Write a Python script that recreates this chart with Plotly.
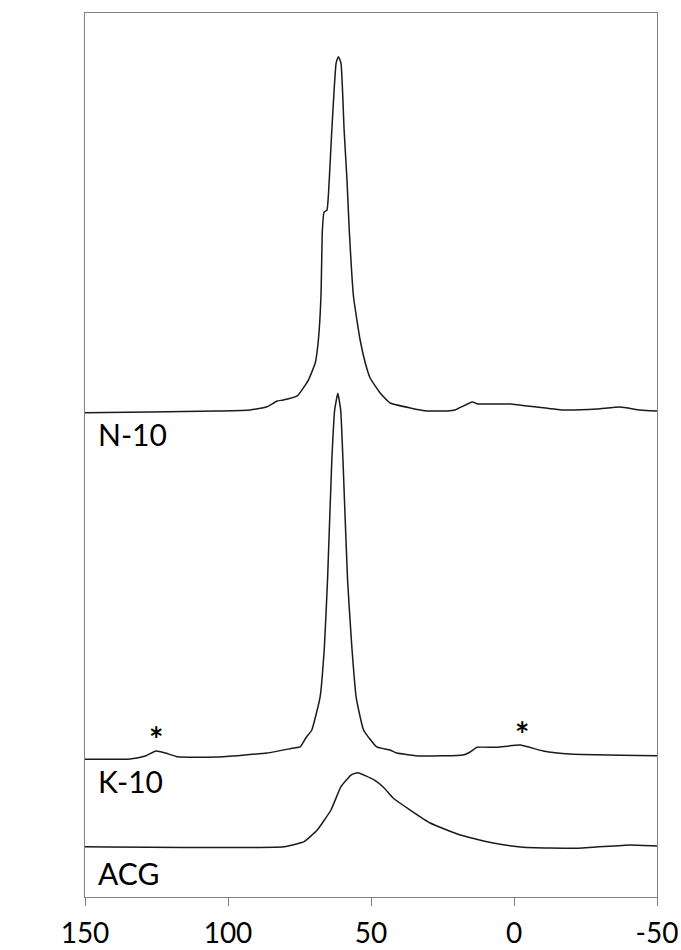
import plotly.graph_objects as go

# ---- data (chemical shift in ppm, intensity in arbitrary stacked units) ----
n10_ppm = [150, 127.2, 103.8, 92.2, 86.3, 82.8, 80.7, 75.8, 71.9, 69.5, 68.4, 67.5, 67.0,
           66.4, 65.4, 64.6, 63.7, 62.2, 61.4, 60.5, 59.4, 58.4, 57.6, 56.1, 53.8, 52.0,
           50.3, 46.8, 43.3, 36.3, 30.4, 23.4, 20.6, 14.6, 12.6, 1.4, -17.2, -29.0, -37.1,
           -44.1, -50]
n10_int = [54.79, 54.86, 54.98, 55.09, 55.46, 56.11, 56.22, 56.68, 58.48, 60.41, 63.01, 67.91,
           75.45, 77.49, 77.71, 81.11, 86.76, 94.34, 95.06, 94.34, 86.76, 81.11, 75.45, 67.87,
           63.01, 60.41, 58.71, 57.01, 55.88, 55.32, 54.98, 54.98, 55.09, 56.0, 55.77, 55.77,
           55.09, 55.2, 55.43, 55.09, 54.98]

k10_ppm = [150, 134.2, 128.9, 125.2, 121.9, 117.7, 103.8, 86.3, 76.9, 74.8, 72.8, 70.7, 67.8,
           66.3, 65.2, 63.7, 62.7, 61.6, 60.6, 59.8, 58.2, 56.7, 55.2, 52.6, 48.0, 43.3, 41.0,
           32.8, 17.8, 15.3, 12.9, 5.9, -2.1, -10.2, -19.6, -50]
k10_int = [15.58, 15.61, 15.95, 16.52, 16.29, 15.87, 15.84, 16.29, 16.86, 16.97, 17.99, 18.89,
           22.62, 28.28, 35.86, 49.43, 55.09, 56.98, 55.09, 49.43, 35.86, 28.28, 22.62, 18.89,
           16.97, 16.63, 16.29, 15.95, 16.06, 16.4, 16.93, 16.93, 17.19, 16.52, 16.18, 15.98]

acg_ppm = [150, 80.4, 73.4, 68.8, 64.0, 60.5, 57.0, 54.7, 48.9, 45.4, 42.3, 36.3, 29.3, 18.8,
           7.3, -3.2, -22.0, -40.6, -50]
acg_int = [5.69, 5.69, 6.26, 7.58, 9.84, 12.48, 13.8, 14.06, 13.24, 12.33, 11.2, 9.84, 8.37,
           7.01, 6.11, 5.62, 5.51, 5.88, 5.77]

labels = ["N-10", "K-10", "ACG"]
label_ppm = [146, 146, 146]
label_int = [52.4, 13.1, 2.7]

star_ppm = [125.2, -2.8]
star_int = [15.4, 15.9]

tick_vals = [150, 100, 50, 0, -50]
tick_text = ["150", "100", "50", "0", "-50"]

FONT = "Lato"
LINE = "#1a1a1a"
FRAME = "#808080"

fig = go.Figure()
for xs, ys in [(n10_ppm, n10_int), (k10_ppm, k10_int), (acg_ppm, acg_int)]:
    fig.add_trace(go.Scatter(x=xs, y=ys, mode="lines",
                             line=dict(color=LINE, width=1.5, shape="spline", smoothing=0.4),
                             showlegend=False, hoverinfo="skip"))

for t, xv, yv in zip(labels, label_ppm, label_int):
    fig.add_annotation(x=xv, y=yv, text=t, showarrow=False, xanchor="left", yanchor="middle",
                       font=dict(family=FONT, size=30, color="black"))

for xv, yv in zip(star_ppm, star_int):
    fig.add_annotation(x=xv, y=yv, text="<b>*</b>", showarrow=False, xanchor="center",
                       yanchor="bottom", font=dict(family=FONT, size=34, color="black"))

fig.update_layout(
    width=681, height=950,
    margin=dict(l=85, r=24, t=13, b=53, autoexpand=False),
    paper_bgcolor="white", plot_bgcolor="white",
    font=dict(family=FONT, color="black"),
)
fig.update_xaxes(range=[150, -50], tickvals=tick_vals, ticktext=tick_text, automargin=False,
                 showgrid=False, zeroline=False, showline=True, mirror=True,
                 linecolor=FRAME, linewidth=1.2, ticks="outside", ticklen=8,
                 tickcolor=FRAME, tickwidth=1.2, ticklabelstandoff=3,
                 tickfont=dict(family=FONT, size=28, color="black"))
fig.update_yaxes(range=[0, 100], automargin=False, showgrid=False, zeroline=False,
                 showline=True, mirror=True,
                 linecolor=FRAME, linewidth=1.2, showticklabels=False, ticks="")

fig.write_html("out.html")
